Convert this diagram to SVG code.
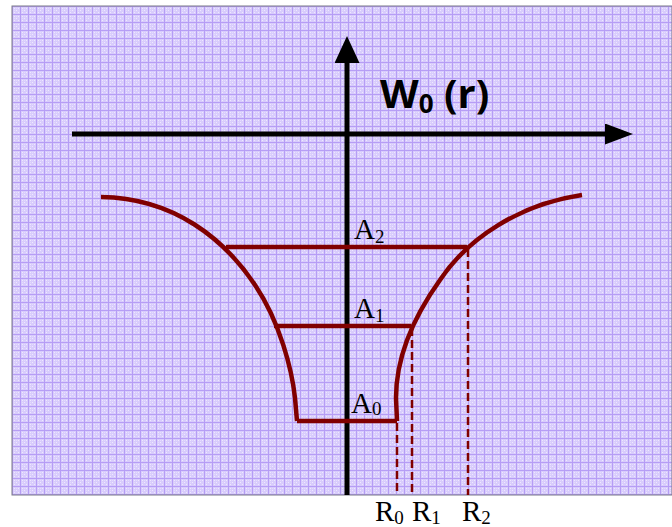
<svg xmlns="http://www.w3.org/2000/svg" width="672" height="527" viewBox="0 0 672 527">
  <defs>
    <pattern id="grid" x="12" y="6" width="8" height="8" patternUnits="userSpaceOnUse">
      <rect width="8" height="8" fill="#d8ccfc"/>
      <rect x="2" y="2" width="1" height="1" fill="#eee8fe"/>
      <rect x="4" y="4" width="1" height="1" fill="#eee8fe"/>
      <rect x="6" y="2" width="1" height="1" fill="#eee8fe"/>
      <rect x="2" y="6" width="1" height="1" fill="#eee8fe"/>
      <rect x="6" y="6" width="1" height="1" fill="#eee8fe"/>
      <rect x="4" y="2" width="1" height="1" fill="#e4dbfd"/>
      <rect x="2" y="4" width="1" height="1" fill="#e4dbfd"/>
      <rect x="0" y="0" width="8" height="1" fill="#b69df5"/>
      <rect x="0" y="0" width="1" height="8" fill="#b69df5"/>
    </pattern>
    <marker id="arrH" viewBox="0 0 10 10" refX="0" refY="5" markerWidth="5.6" markerHeight="4.2" markerUnits="strokeWidth" orient="auto" preserveAspectRatio="none">
      <path d="M0,0 L10,5 L0,10 Z" fill="#000"/>
    </marker>
    <marker id="arrV" viewBox="0 0 10 10" refX="0" refY="5" markerWidth="5.4" markerHeight="5" markerUnits="strokeWidth" orient="auto" preserveAspectRatio="none">
      <path d="M0,0 L10,5 L0,10 Z" fill="#000"/>
    </marker>
  </defs>
  <style>
    .axis { stroke: #000; stroke-width: 5; fill: none; }
    .curve { stroke: #800000; stroke-width: 4.5; fill: none; stroke-linejoin: round; }
    .dash { stroke: #800000; stroke-width: 2.5; stroke-dasharray: 8 4; fill: none; }
    .lbl { font-family: "Liberation Serif", "Times New Roman", serif; font-size: 29px; fill: #000; }
    .sub { font-size: 19px; }
    .title { font-family: "Open Sans", "Liberation Sans", sans-serif; font-weight: bold; font-size: 40px; fill: #000; }
  </style>
  <rect id="background" x="12" y="6" width="660" height="489" fill="url(#grid)" stroke="#7a7a88" stroke-width="1"/>

  <g id="connectors">
    <line id="x-axis" class="axis" x1="72" y1="134" x2="605" y2="134" marker-end="url(#arrH)"/>
    <line id="y-axis" class="axis" x1="347" y1="495" x2="347" y2="63" marker-end="url(#arrV)"/>
    <path id="right-curve" class="curve" d="M397,421 L396,398 C396,362 410,322 440,280 C468,238 520,204 582,195"/>
    <path id="left-curve" class="curve" d="M297,421 L295,398 C292,370 280,322 255,285 C225,240 175,198 101,197"/>
    <line class="curve" x1="297" y1="421" x2="397" y2="421"/>
    <line class="curve" x1="274" y1="326" x2="411" y2="326"/>
    <line class="curve" x1="226" y1="247" x2="467" y2="247"/>
    <line class="dash" x1="397" y1="423" x2="397" y2="495"/>
    <line class="dash" x1="412" y1="328" x2="412" y2="495"/>
    <line class="dash" x1="468" y1="249" x2="468" y2="495"/>
  </g>

  <g id="title"><text class="title" x="380" y="108">W<tspan font-size="26" dy="5">0</tspan><tspan dy="-5"> (r)</tspan></text></g>
  <g id="label-A2"><text class="lbl" x="354" y="239">A<tspan class="sub" dy="4">2</tspan></text></g>
  <g id="label-A1"><text class="lbl" x="354" y="318">A<tspan class="sub" dy="4">1</tspan></text></g>
  <g id="label-A0"><text class="lbl" x="351" y="413">A<tspan class="sub" dy="2">0</tspan></text></g>
  <g id="label-R0"><text class="lbl" x="375" y="521">R<tspan class="sub" dy="3">0</tspan></text></g>
  <g id="label-R1"><text class="lbl" x="412" y="521">R<tspan class="sub" dy="3">1</tspan></text></g>
  <g id="label-R2"><text class="lbl" x="462" y="521">R<tspan class="sub" dy="3">2</tspan></text></g>
</svg>
